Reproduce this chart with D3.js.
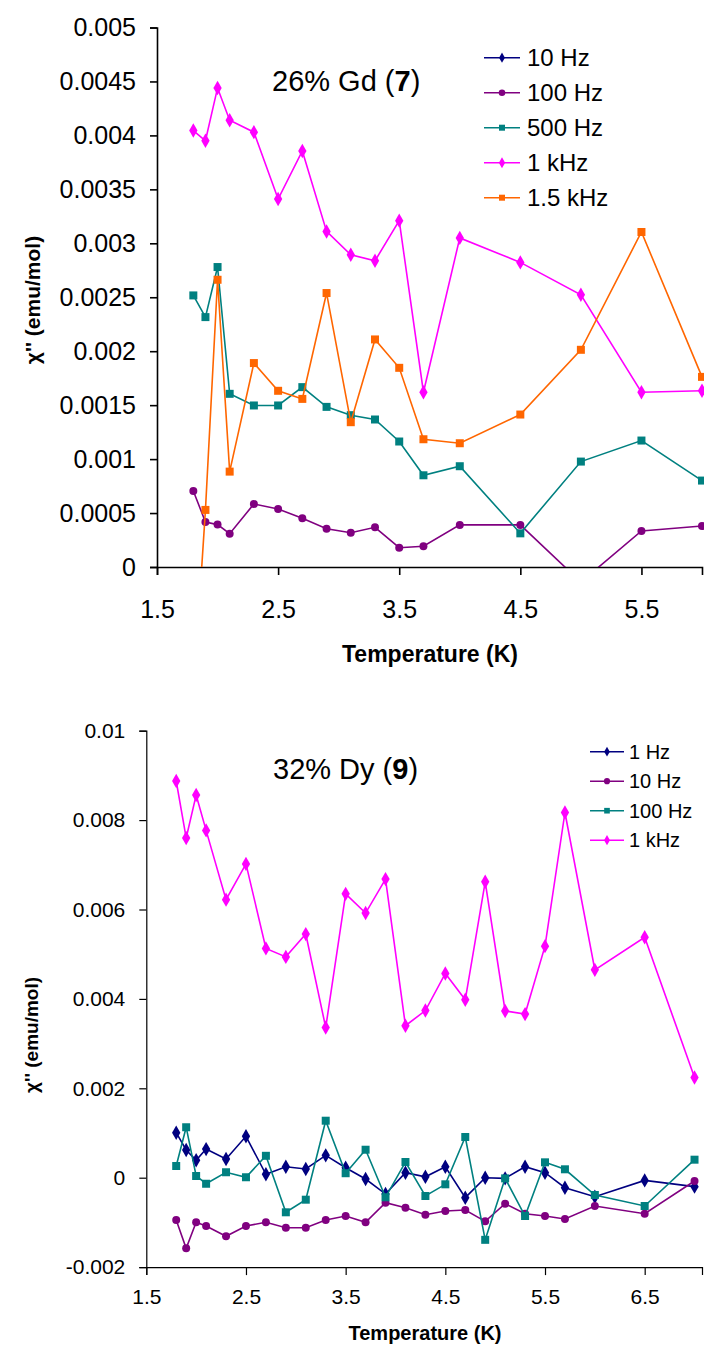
<!DOCTYPE html>
<html><head><meta charset="utf-8">
<script src="https://cdn.jsdelivr.net/npm/d3@7"></script>
<style>html,body{margin:0;padding:0;background:#fff;}svg{display:block;font-family:"Liberation Sans",Arial,sans-serif;}</style>
</head><body><svg id="c" width="704" height="1356"></svg>
<script>
// ---------- Top chart: 26% Gd (7) ----------
const topT = [1.8,1.9,2.0,2.1,2.3,2.5,2.7,2.9,3.1,3.3,3.5,3.7,4.0,4.5,5.0,5.5,6.0];
const top10Hz = [];   // no visible points in the plotted range
const top100Hz = [0.000705,0.000417,0.000393,0.000309,0.000584,0.000538,0.000452,0.000355,0.000318,0.000368,0.000179,0.000192,0.00039,0.00039,-0.00014,0.000334,0.00038];
const top500Hz = [0.002517,0.002316,0.00278,0.001605,0.001497,0.001497,0.001667,0.001484,0.001407,0.001367,0.001163,0.00085,0.000934,0.000312,0.000977,0.001172,0.000801];
const top1kHz = [0.004045,0.00395,0.00444,0.00414,0.00403,0.00341,0.003856,0.00311,0.002894,0.002838,0.00321,0.00162,0.00305,0.002823,0.002523,0.00162,0.001633];
const top1_5kHz = [-0.0012,0.000529,0.002662,0.000884,0.00189,0.001633,0.001558,0.002539,0.001342,0.002109,0.001846,0.001184,0.001147,0.001413,0.002013,0.003105,0.001762];
const topXTicks = [1.5,2.5,3.5,4.5,5.5];
const topYTicks = [0,0.0005,0.001,0.0015,0.002,0.0025,0.003,0.0035,0.004,0.0045,0.005];
const topYLabels = ["0","0.0005","0.001","0.0015","0.002","0.0025","0.003","0.0035","0.004","0.0045","0.005"];

// ---------- Bottom chart: 32% Dy (9) ----------
const botT = [1.8,1.9,2.0,2.1,2.3,2.5,2.7,2.9,3.1,3.3,3.5,3.7,3.9,4.1,4.3,4.5,4.7,4.9,5.1,5.3,5.5,5.7,6.0,6.5,7.0];
const bot1Hz = [0.001007,0.00062,0.00039,0.00064,0.00042,0.000926,0.000076,0.000246,0.000195,0.0005,0.000224,-0.00003,-0.000365,0.000112,0.00002,0.000246,-0.000447,0,-0.000015,0.000246,0.000112,-0.000224,-0.000425,-0.00006,-0.0002];
const bot10Hz = [-0.000946,-0.00158,-0.000998,-0.00108,-0.00131,-0.00108,-0.000998,-0.00112,-0.00112,-0.000946,-0.000857,-0.000998,-0.000559,-0.000671,-0.000828,-0.000745,-0.000723,-0.000976,-0.000581,-0.000805,-0.000857,-0.000924,-0.000633,-0.000805,-0.000074];
const bot100Hz = [0.000262,0.00113,0.00004,-0.000134,0.00012,0.00001,0.00049,-0.000774,-0.000492,0.001275,0.0001,0.000626,-0.000438,0.000351,-0.00041,-0.000148,0.00091,-0.00139,-0.000015,-0.000857,0.000344,0.000188,-0.000387,-0.000633,0.000403];
const bot1kHz = [0.008875,0.0076,0.00856,0.00777,0.00622,0.00702,0.00513,0.00494,0.00545,0.00336,0.00635,0.00592,0.00668,0.0034,0.00374,0.00457,0.00398,0.00662,0.00373,0.00366,0.00518,0.00817,0.00465,0.00538,0.00224];
const botXTicks = [1.5,2.5,3.5,4.5,5.5,6.5];
const botYTicks = [-0.002,0,0.002,0.004,0.006,0.008,0.01];
const botYLabels = ["-0.002","0","0.002","0.004","0.006","0.008","0.01"];

const COLORS = {navy:"#000080", purple:"#800080", teal:"#008080", magenta:"#FF00FF", orange:"#FF6600"};

const svg = d3.select("#c");

function drawChart(cfg){
  const g = svg.append("g");
  const x = d3.scaleLinear().domain(cfg.xDomain).range(cfg.xRange);
  const y = d3.scaleLinear().domain(cfg.yDomain).range(cfg.yRange);
  const clipId = "clip" + cfg.id;
  g.append("clipPath").attr("id", clipId).append("rect")
    .attr("x", cfg.xRange[0]).attr("y", cfg.yRange[1])
    .attr("width", cfg.xRange[1]-cfg.xRange[0]+4).attr("height", cfg.yRange[0]-cfg.yRange[1]);

  // axes
  const yAxis = d3.axisLeft(y).tickValues(cfg.yTicks).tickFormat((d,i)=>cfg.yLabels[i]).tickSizeOuter(0).tickSize(7).tickPadding(cfg.yPad);
  const ya = g.append("g").attr("transform",`translate(${cfg.xRange[0]},0)`).call(yAxis);
  const xAxis = d3.axisBottom(x).tickValues(cfg.xTicks).tickFormat(d3.format(".1f")).tickSizeOuter(0).tickSize(8).tickPadding(cfg.xPad);
  const xa = g.append("g").attr("transform",`translate(0,${cfg.yRange[0]})`).call(xAxis);
  [ya,xa].forEach(a=>{
    a.select(".domain").attr("stroke","#000").attr("stroke-width",cfg.axisW);
    a.selectAll(".tick line").attr("stroke","#000").attr("stroke-width",cfg.axisW);
    a.selectAll(".tick text").attr("fill","#000").style("font-size",cfg.tickFont+"px").style("font-family","Liberation Sans, Arial, sans-serif");
  });

  // series
  const plot = g.append("g").attr("clip-path",`url(#${clipId})`);
  const line = d3.line().x(d=>x(d.t)).y(d=>y(d.v));
  cfg.series.forEach(s=>{
    const data = s.values.map((v,i)=>({t:cfg.t[i], v}));
    if(!data.length) return;
    plot.append("path").datum(data).attr("d",line).attr("fill","none")
      .attr("stroke",s.color).attr("stroke-width",1.6);
    const sym = d3.symbol().type(s.shape).size(s.size);
    plot.selectAll(null).data(data).join("path")
      .attr("d",sym).attr("fill",s.color)
      .attr("transform",d=>`translate(${x(d.t)},${y(d.v)})`);
  });

  // title
  const title = g.append("text").attr("x",cfg.titleX).attr("y",cfg.titleY)
    .style("font-size",cfg.titleFont+"px").attr("fill","#000");
  title.append("tspan").text(cfg.title[0]);
  title.append("tspan").style("font-weight","bold").text(cfg.title[1]);
  title.append("tspan").text(cfg.title[2]);

  // legend
  const lg = g.append("g");
  cfg.series.forEach((s,i)=>{
    const yy = cfg.legY + i*cfg.legStep;
    lg.append("line").attr("x1",cfg.legX).attr("x2",cfg.legX+cfg.legLine)
      .attr("y1",yy).attr("y2",yy).attr("stroke",s.color).attr("stroke-width",1.6);
    lg.append("path").attr("d",d3.symbol().type(s.shape).size(s.legSize)())
      .attr("fill",s.color).attr("transform",`translate(${cfg.legX+cfg.legLine/2},${yy})`);
    lg.append("text").attr("x",cfg.legX+cfg.legLine+cfg.legGap).attr("y",yy)
      .attr("dy","0.35em").style("font-size",cfg.legFont+"px").attr("fill","#000").text(s.name);
  });

  // axis titles
  g.append("text").attr("x",(cfg.xLabelX)).attr("y",cfg.xLabelY).attr("text-anchor","middle")
    .style("font-size",cfg.labFont+"px").style("font-weight","bold").text("Temperature (K)");
  g.append("text").attr("transform",`translate(${cfg.yLabelX},${cfg.yLabelY}) rotate(-90)`)
    .attr("text-anchor","middle").style("font-size",cfg.yLabFont+"px").style("font-weight","bold")
    .text("\u03C7'' (emu/mol)");
}

drawChart({
  id:"top", t:topT,
  xDomain:[1.5,6], xRange:[157,702], yDomain:[0,0.005], yRange:[567,27.5],
  xTicks:topXTicks, yTicks:topYTicks, yLabels:topYLabels, yPad:14, xPad:25, axisW:1.6, tickFont:25,
  series:[
    {name:"10 Hz", values:top10Hz, color:COLORS.navy, shape:d3.symbolDiamond, size:60, legSize:30},
    {name:"100 Hz", values:top100Hz, color:COLORS.purple, shape:d3.symbolCircle, size:50, legSize:34},
    {name:"500 Hz", values:top500Hz, color:COLORS.teal, shape:d3.symbolSquare, size:64, legSize:36},
    {name:"1 kHz", values:top1kHz, color:COLORS.magenta, shape:d3.symbolDiamond, size:60, legSize:34},
    {name:"1.5 kHz", values:top1_5kHz, color:COLORS.orange, shape:d3.symbolSquare, size:64, legSize:36}
  ],
  title:["26% Gd (","7",")"], titleX:272, titleY:91, titleFont:29,
  legX:484, legLine:36, legGap:7, legY:57.7, legStep:35, legFont:24,
  xLabelX:430, xLabelY:662, labFont:23, yLabelX:40, yLabelY:300, yLabFont:21
});

drawChart({
  id:"bot", t:botT,
  xDomain:[1.5,7.075], xRange:[146.3,702], yDomain:[-0.002,0.01], yRange:[1267.1,730.7],
  xTicks:botXTicks, yTicks:botYTicks, yLabels:botYLabels, yPad:14, xPad:14, axisW:1.2, tickFont:21,
  series:[
    {name:"1 Hz", values:bot1Hz, color:COLORS.navy, shape:d3.symbolDiamond, size:60, legSize:28},
    {name:"10 Hz", values:bot10Hz, color:COLORS.purple, shape:d3.symbolCircle, size:50, legSize:30},
    {name:"100 Hz", values:bot100Hz, color:COLORS.teal, shape:d3.symbolSquare, size:64, legSize:32},
    {name:"1 kHz", values:bot1kHz, color:COLORS.magenta, shape:d3.symbolDiamond, size:60, legSize:30}
  ],
  title:["32% Dy (","9",")"], titleX:273, titleY:779, titleFont:29,
  legX:590, legLine:34, legGap:5, legY:751.7, legStep:29.5, legFont:20,
  xLabelX:425, xLabelY:1340, labFont:20, yLabelX:38, yLabelY:1035, yLabFont:19
});
</script></body></html>
